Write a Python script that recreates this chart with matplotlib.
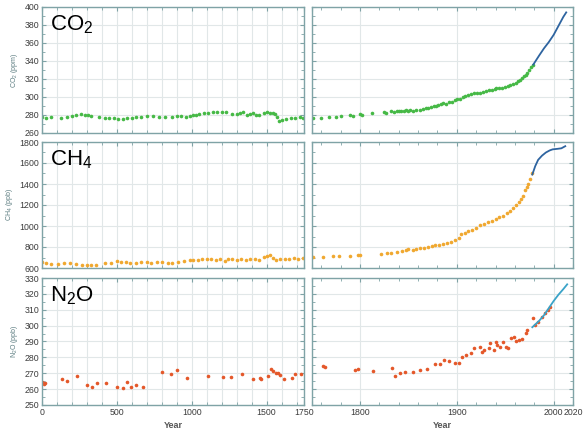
import matplotlib
matplotlib.use("Agg")
import matplotlib.pyplot as plt
from matplotlib.ticker import MultipleLocator, FixedLocator, FixedFormatter

plt.rcParams['font.family'] = ['Liberation Sans', 'DejaVu Sans']
plt.rcParams['mathtext.default'] = 'regular'

# CO2 (ppm), ice core points and the instrument line
co2_early_year = [0, 25, 60, 130, 165, 200, 230, 260, 285, 310, 330, 380, 420, 450, 480,
                  510, 540, 570, 600, 630, 660, 700, 740, 780, 820, 870, 900, 930, 960,
                  990, 1010, 1030, 1050, 1080, 1110, 1140, 1170, 1200, 1230, 1270, 1300,
                  1320, 1340, 1370, 1390, 1410, 1430, 1450, 1480, 1500, 1520, 1540, 1555,
                  1570, 1585, 1600, 1630, 1660, 1690, 1720, 1745]
co2_early_ppm = [278, 277, 278, 277, 278, 279, 280, 281, 280, 280, 279, 278, 277, 277, 277,
                 276, 276, 277, 277, 278, 278, 279, 279, 278, 278, 278, 279, 279, 278,
                 279, 280, 280, 281, 282, 282, 283, 283, 283, 283, 281, 281, 282, 283,
                 280, 281, 282, 280, 280, 282, 283, 282, 282, 281, 278, 273, 275, 276,
                 277, 277, 278, 277]
co2_late_year = [1752, 1760, 1768, 1775, 1780, 1790, 1793, 1800, 1802, 1812, 1825, 1827,
                 1832, 1835, 1838, 1840, 1842, 1845, 1848, 1850, 1852, 1855, 1858, 1862,
                 1865, 1868, 1870, 1873, 1876, 1879, 1881, 1884, 1886, 1889, 1892, 1895,
                 1898, 1900, 1903, 1906, 1909, 1912, 1915, 1918, 1921, 1924, 1927, 1930,
                 1933, 1936, 1939, 1941, 1944, 1947, 1950, 1953, 1955, 1958, 1961, 1963,
                 1965, 1967, 1969, 1971, 1973, 1975, 1977, 1979]
co2_late_ppm = [277, 277, 278, 278, 279, 280, 279, 281, 280, 282, 283, 282,
                284, 283, 284, 285, 284, 285, 286, 285, 286, 285, 286, 286,
                287, 288, 288, 289, 290, 290, 291, 292, 293, 292, 294, 295,
                297, 298, 298, 300, 301, 302, 303, 304, 304, 305, 306, 307,
                308, 308, 309, 310, 310, 310, 311, 312, 313, 314, 316, 318,
                319, 321, 323, 325, 327, 330, 333, 336]
co2_line_year = [1979, 1985, 1990, 1995, 2000, 2005, 2010, 2013]
co2_line_ppm = [336, 346, 354, 361, 369, 379, 389, 394]

# CH4 (ppb)
ch4_early_year = [0, 30, 60, 110, 150, 190, 230, 270, 300, 330, 360, 420, 460, 500, 530,
                  560, 590, 630, 660, 700, 730, 770, 800, 840, 870, 910, 950, 990, 1010,
                  1040, 1070, 1100, 1130, 1160, 1190, 1220, 1240, 1270, 1300, 1330, 1360,
                  1390, 1420, 1450, 1480, 1500, 1525, 1545, 1565, 1590, 1620, 1650, 1680,
                  1710, 1740]
ch4_early_ppb = [655, 645, 640, 640, 645, 645, 640, 630, 625, 625, 625, 645, 650, 665, 660,
                 655, 645, 650, 655, 655, 650, 660, 660, 650, 650, 660, 665, 680, 678,
                 680, 685, 690, 688, 680, 685, 670, 690, 685, 680, 690, 680,
                 685, 690, 680, 705, 710, 720, 700, 680, 690, 690, 685, 695,
                 690, 700]
ch4_late_year = [1752, 1762, 1772, 1778, 1790, 1798, 1800, 1822, 1828, 1832, 1838, 1843,
                 1848, 1850, 1855, 1858, 1862, 1866, 1870, 1874, 1878, 1882, 1886, 1890,
                 1894, 1898, 1902, 1904, 1908, 1912, 1916, 1920, 1924, 1928, 1932, 1936,
                 1940, 1944, 1948, 1952, 1955, 1958, 1961, 1964, 1966, 1968, 1970, 1972,
                 1974, 1976, 1978]
ch4_late_ppb = [702, 705, 712, 715, 712, 724, 722, 730, 740, 745, 752, 760,
                770, 780, 772, 785, 790, 795, 803, 810, 815, 822, 830, 840,
                850, 868, 883, 925, 935, 955, 965, 985, 1005, 1020, 1035, 1050,
                1070, 1085, 1100, 1120, 1140, 1170, 1200, 1230, 1260, 1290, 1340, 1370,
                1400, 1450, 1500]
ch4_line_year = [1978, 1981, 1984, 1988, 1992, 1996, 1999, 2004, 2008, 2012]
ch4_line_ppb = [1490, 1570, 1630, 1670, 1700, 1720, 1730, 1735, 1740, 1760]

# N2O (ppb)
n2o_early_year = [2, 7, 12, 20, 135, 169, 232, 300, 331, 367, 428, 500, 541, 570, 597,
                  631, 676, 804, 860, 901, 968, 1110, 1209, 1261, 1333, 1412, 1453,
                  1464, 1509, 1532, 1543, 1561, 1577, 1592, 1617, 1673, 1689, 1730]
n2o_early_ppb = [264.7, 263.7, 263.2, 264.0, 266.2, 265.3, 268.3, 262.4, 261.5, 263.7,
                 263.7, 261.5, 260.5, 264.7, 261.1, 262.6, 261.5, 270.8, 269.3, 272.0,
                 266.8, 268.3, 267.9, 267.6, 269.7, 266.4, 267.0, 266.6, 268.5, 272.5,
                 271.2, 270.4, 270.0, 269.1, 266.4, 267.2, 269.7, 269.7]
n2o_late_year = [1762, 1764, 1795, 1798, 1814, 1833, 1836, 1841, 1847, 1855, 1862, 1869,
                 1878, 1883, 1887, 1892, 1898, 1902, 1905, 1910, 1915, 1918, 1924, 1926,
                 1928, 1933, 1934, 1938, 1940, 1942, 1945, 1948, 1951, 1953, 1956, 1959,
                 1961, 1964, 1967, 1971, 1973, 1979, 1981, 1984, 1988, 1991, 1994, 1996]
n2o_late_ppb = [274.6, 273.7, 272.0, 272.5, 271.6, 273.1, 268.3, 270.4, 270.6, 270.6,
                272.0, 272.5, 275.6, 275.8, 278.4, 277.9, 276.7, 276.3, 280.0, 281.5,
                282.6, 285.7, 286.8, 283.6, 284.7, 285.7, 288.9, 284.7, 289.9, 287.8,
                286.8, 289.9, 286.8, 285.7, 292.0, 293.0, 290.3, 291.0, 291.4, 295.2,
                297.3, 305.0, 300.4, 302.5, 305.7, 307.8, 309.9, 312.0]
n2o_line_year = [1978, 1985, 1990, 1995, 2000, 2005, 2010, 2014]
n2o_line_ppb = [299.0, 303.0, 306.5, 311.0, 315.5, 319.5, 323.0, 326.0]

left_ticks = [0, 500, 1000, 1500, 1750]
right_ticks = [1750, 1800, 1900, 2000, 2020]
right_labels = ["", "1800", "1900", "2000", "2020"]

SPINE = "#7fa3a6"
GRID = "#e1e7e8"
TICKTXT = "#3c3c3c"

rows = [
    dict(name="CO$_2$", ylabel="CO$_2$ (ppm)", ylim=(260, 400), ystep=20, color="#46b946",
         line="#2e64a0", early=(co2_early_year, co2_early_ppm),
         late=(co2_late_year, co2_late_ppm), inst=(co2_line_year, co2_line_ppm)),
    dict(name="CH$_4$", ylabel="CH$_4$ (ppb)", ylim=(600, 1800), ystep=200, color="#f0a830",
         line="#2e64a0", early=(ch4_early_year, ch4_early_ppb),
         late=(ch4_late_year, ch4_late_ppb), inst=(ch4_line_year, ch4_line_ppb)),
    dict(name="N$_2$O", ylabel="N$_2$O (ppb)", ylim=(250, 330), ystep=10, color="#e4582a",
         line="#3aa3c8", early=(n2o_early_year, n2o_early_ppb),
         late=(n2o_late_year, n2o_late_ppb), inst=(n2o_line_year, n2o_line_ppb)),
]

fig = plt.figure(figsize=(5.83, 4.32), dpi=100)
W, H = 583.0, 432.0
tops = [7, 142, 278]
bots = [133, 268, 405]


def style(ax):
    for s in ax.spines.values():
        s.set_color(SPINE)
        s.set_linewidth(1.0)
    ax.tick_params(which="both", direction="in", top=True, right=True,
                   color=SPINE, labelsize=6.3, labelcolor=TICKTXT, pad=2)
    ax.tick_params(which="major", length=3)
    ax.tick_params(which="minor", length=2)
    ax.set_axisbelow(True)


for i, r in enumerate(rows):
    b = 1 - bots[i] / H
    h = (bots[i] - tops[i]) / H
    axl = fig.add_axes([42 / W, b, (304 - 42) / W, h])
    axr = fig.add_axes([311.5 / W, b, (573 - 311.5) / W, h])

    for ax in (axl, axr):
        style(ax)
        ax.set_ylim(*r["ylim"])
        ax.yaxis.set_major_locator(MultipleLocator(r["ystep"]))
        ax.yaxis.set_minor_locator(MultipleLocator(r["ystep"] / 2))
        ax.grid(True, which="major", axis="y", color=GRID, linewidth=0.8)

    axl.set_xlim(0, 1750)
    axl.xaxis.set_major_locator(FixedLocator(left_ticks))
    axl.xaxis.set_minor_locator(MultipleLocator(100))
    axl.grid(True, which="both", axis="x", color=GRID, linewidth=0.8)

    axr.set_xlim(1750, 2020)
    axr.xaxis.set_major_locator(FixedLocator(right_ticks))
    axr.xaxis.set_major_formatter(FixedFormatter(right_labels))
    axr.xaxis.set_minor_locator(MultipleLocator(20))
    axr.grid(True, which="major", axis="x", color=GRID, linewidth=0.8)
    axr.tick_params(labelleft=False)

    axl.plot(*r["early"], "o", color=r["color"], markersize=2.6, markeredgewidth=0)
    axr.plot(*r["late"], "o", color=r["color"], markersize=2.6, markeredgewidth=0)
    axr.plot(*r["inst"], "-", color=r["line"], linewidth=1.3)

    axl.set_ylabel(r["ylabel"], fontsize=5, color="#5b7c80", labelpad=3)
    axl.text(0.03, 0.95, r["name"], transform=axl.transAxes, fontsize=16,
             va="top", ha="left", color="black")

    if i < 2:
        axl.tick_params(labelbottom=False)
        axr.tick_params(labelbottom=False)
    else:
        axl.set_xlabel("Year", fontsize=6.5, fontweight="bold", color="#555555", labelpad=3)
        axr.set_xlabel("Year", fontsize=6.5, fontweight="bold", color="#555555", labelpad=3)

fig.savefig("out.png", dpi=100)
